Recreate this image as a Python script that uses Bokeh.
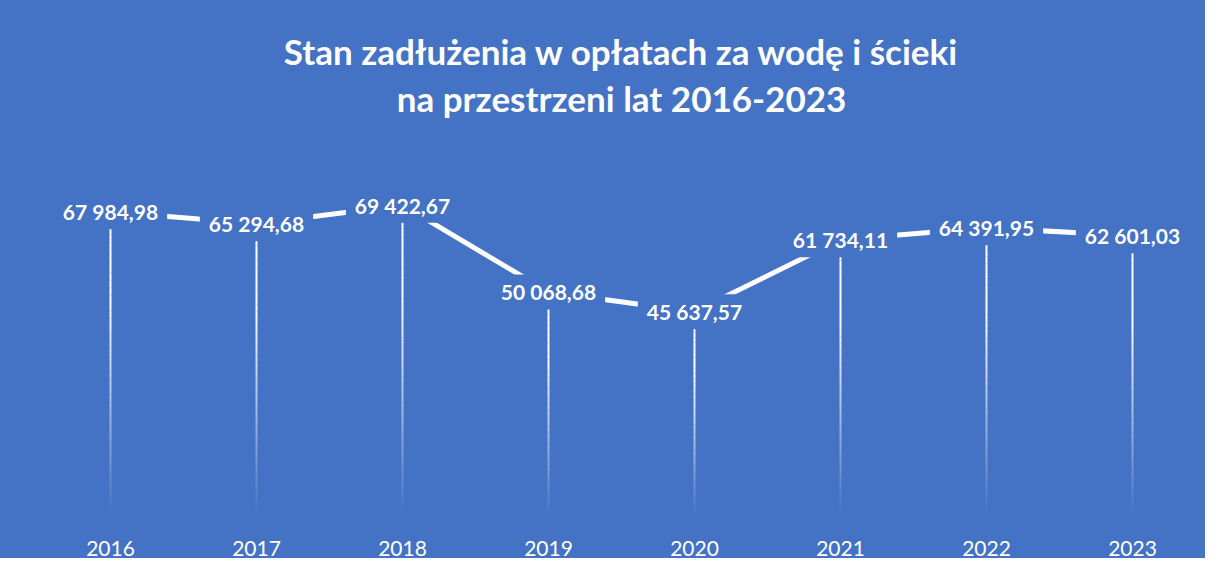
from bokeh.plotting import figure
from bokeh.models import FactorRange, Range1d, Title, ColumnDataSource
from bokeh.core.properties import value
from bokeh.embed import file_html
from bokeh.resources import INLINE

years = ["2016", "2017", "2018", "2019", "2020", "2021", "2022", "2023"]
debt = [67984.98, 65294.68, 69422.67, 50068.68, 45637.57, 61734.11, 64391.95, 62601.03]
labels = ["67 984,98", "65 294,68", "69 422,67", "50 068,68",
          "45 637,57", "61 734,11", "64 391,95", "62 601,03"]
title1 = "Stan zadłużenia w opłatach za wodę i ścieki"
title2 = "na przestrzeni lat 2016-2023"

BG = "#4472C4"
FONT = "Lato"

p = figure(width=1205, height=558, output_backend="svg", toolbar_location=None,
           x_range=FactorRange(*years), y_range=Range1d(0, 88310),
           background_fill_color=None, border_fill_color=None, outline_line_color=None,
           min_border_left=37, min_border_right=0, min_border_top=120, min_border_bottom=0,
           styles={"background-color": BG})
p.outline_line_color = None

p.add_layout(Title(text=title2, align="center", text_font=FONT, text_font_size="35px",
                   text_font_style="bold", text_color="white", standoff=3), "above")
p.add_layout(Title(text=title1, align="center", text_font=FONT, text_font_size="35px",
                   text_font_style="bold", text_color="white", standoff=3), "above")

p.xgrid.visible = False
p.ygrid.visible = False
p.yaxis.visible = False
ax = p.xaxis[0]
ax.axis_line_color = None
ax.major_tick_line_color = None
ax.minor_tick_line_color = None
ax.major_label_text_color = "white"
ax.major_label_text_font = FONT
ax.major_label_text_font_size = "21px"
ax.major_label_standoff = 18

# main line
p.line(years, debt, line_color="white", line_width=5)

# gradient drop lines (fading toward the axis)
N = 40
xs, y0s, y1s, alphas = [], [], [], []
for yr, v in zip(years, debt):
    for i in range(N):
        f0 = i / N
        f1 = (i + 1) / N
        xs.append(yr)
        y0s.append(v * (1 - f0))
        y1s.append(v * (1 - f1))
        fm = (f0 + f1) / 2
        a = 1.0 if fm < 0.3 else max(0.0, 1 - (fm - 0.3) / 0.7)
        alphas.append(a)
src = ColumnDataSource(dict(x0=xs, y0=y0s, x1=xs, y1=y1s, a=alphas))
p.segment(x0="x0", y0="y0", x1="x1", y1="y1", source=src, line_color="white",
          line_alpha="a", line_width=2)

# data labels with background masking the lines
lsrc = ColumnDataSource(dict(x=years, y=debt, t=labels))
p.text(x="x", y="y", text="t", source=lsrc, text_color="white",
       text_font=value(FONT), text_font_size="21px", text_font_style="bold",
       text_align="center", text_baseline="middle",
       background_fill_color=BG, padding=(9, 5))

open("out.html", "w").write(file_html(p, INLINE))
